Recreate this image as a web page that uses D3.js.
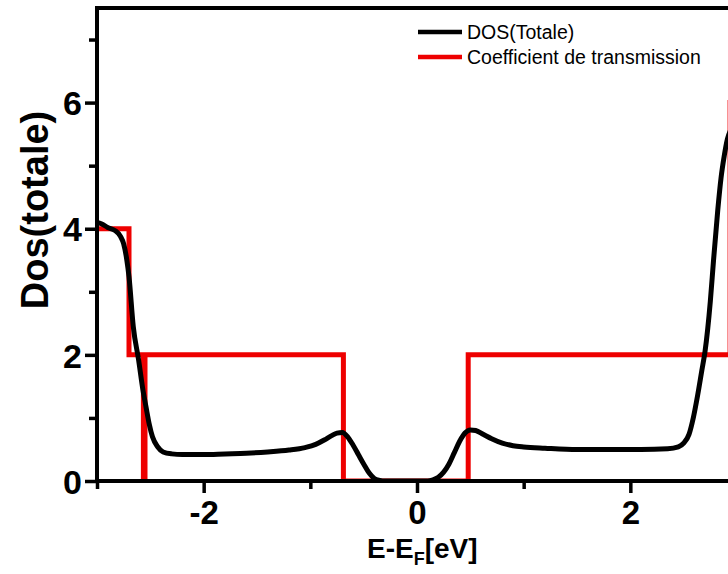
<!DOCTYPE html>
<html>
<head>
<meta charset="utf-8">
<script src="https://cdn.jsdelivr.net/npm/d3@7"></script>
<style>
  body { margin: 0; background: #fff; overflow: hidden; }
  svg { display: block; font-family: "Liberation Sans", Arial, sans-serif; }
</style>
</head>
<body>
<script>
// DOS (totale) curve
const dosEnergy = [-3.00, -2.96, -2.90, -2.83, -2.78, -2.75, -2.72, -2.70, -2.66, -2.61, -2.57, -2.54, -2.51, -2.48, -2.43, -2.38, -2.30, -2.20,
  -2.00, -1.80, -1.60, -1.40, -1.20, -1.05, -0.95, -0.87, -0.80, -0.75, -0.70, -0.65, -0.60, -0.55, -0.50, -0.45, -0.40, -0.35, -0.30,
  0.10, 0.15, 0.20, 0.25, 0.30, 0.35, 0.40, 0.45, 0.50, 0.55, 0.62, 0.70, 0.80, 0.90, 1.00, 1.20, 1.50, 1.80, 2.10, 2.35, 2.45, 2.50,
  2.55, 2.59, 2.63, 2.67, 2.70, 2.75, 2.78, 2.82, 2.85, 2.88, 2.91, 2.95, 3.00];
const dosValues = [4.10, 4.08, 4.02, 3.97, 3.88, 3.76, 3.50, 3.24, 2.45, 1.92, 1.45, 1.17, 0.90, 0.70, 0.54, 0.46, 0.43, 0.42,
  0.42, 0.43, 0.44, 0.46, 0.49, 0.53, 0.58, 0.65, 0.72, 0.76, 0.77, 0.70, 0.57, 0.42, 0.27, 0.13, 0.04, 0.01, 0.00,
  0.00, 0.02, 0.06, 0.14, 0.27, 0.45, 0.63, 0.76, 0.81, 0.80, 0.74, 0.67, 0.60, 0.56, 0.54, 0.52, 0.50, 0.50, 0.50, 0.51, 0.54, 0.60,
  0.74, 1.00, 1.35, 1.75, 2.05, 2.85, 3.50, 4.30, 4.80, 5.15, 5.42, 5.60, 5.70];

// Transmission coefficient (step function, value holds until next energy)
const transEnergy = [-3.00, -2.70, -2.565, -2.55, -0.69, 0.48, 2.935, 3.00];
const transValues = [4, 2, 0, 2, 0, 2, 6, 6];

const xMajor = [-2, 0, 2];
const xMinor = [-3, -1, 1, 3];
const yMajor = [0, 2, 4, 6];
const yMinor = [1, 3, 5, 7];

const seriesNames = ["DOS(Totale)", "Coefficient de transmission"];
const seriesColors = ["#000000", "#ee0000"];

const width = 728, height = 574;
const margin = { top: 8, right: -9, bottom: 93, left: 97 };

const svg = d3.select("body").append("svg")
  .attr("width", width)
  .attr("height", height);

const x = d3.scaleLinear().domain([-3, 3]).range([margin.left, width - margin.right]);
const y = d3.scaleLinear().domain([0, 7.5]).range([height - margin.bottom, margin.top]);

svg.append("defs").append("clipPath").attr("id", "plot")
  .append("rect")
  .attr("x", x(-3)).attr("y", y(7.5))
  .attr("width", x(3) - x(-3)).attr("height", y(0) - y(7.5));

// lines
const dosData = dosEnergy.map((e, i) => [e, dosValues[i]]);
const transData = transEnergy.map((e, i) => [e, transValues[i]]);

const plot = svg.append("g").attr("clip-path", "url(#plot)");

plot.append("path")
  .datum(transData)
  .attr("d", d3.line().x(d => x(d[0])).y(d => y(d[1])).curve(d3.curveStepAfter))
  .attr("fill", "none")
  .attr("stroke", seriesColors[1])
  .attr("stroke-width", 5)
  .attr("stroke-linejoin", "miter");

plot.append("path")
  .datum(dosData)
  .attr("d", d3.line().x(d => x(d[0])).y(d => y(d[1])).curve(d3.curveMonotoneX))
  .attr("fill", "none")
  .attr("stroke", seriesColors[0])
  .attr("stroke-width", 5)
  .attr("stroke-linejoin", "round");

// axes
function styleAxis(g, width) {
  g.select(".domain").remove();
  g.selectAll(".tick line").attr("stroke", "#000").attr("stroke-width", width);
}

const xAxisG = svg.append("g").attr("transform", `translate(0,${y(0)})`);
xAxisG.append("g").call(d3.axisBottom(x).tickValues(xMinor).tickSize(8).tickFormat(""))
  .call(g => styleAxis(g, 3.5));
xAxisG.append("g").call(d3.axisBottom(x).tickValues(xMajor).tickSize(12).tickFormat(d3.format("d")))
  .call(g => styleAxis(g, 3.5))
  .call(g => g.selectAll(".tick text")
    .attr("y", 20).attr("dy", "0.71em")
    .attr("font-size", 33).attr("font-weight", "bold")
    .attr("font-family", "Liberation Sans, Arial, sans-serif")
    .attr("fill", "#000")
    .text(d => d < 0 ? "-" + Math.abs(d) : d));

const yAxisG = svg.append("g").attr("transform", `translate(${x(-3)},0)`);
yAxisG.append("g").call(d3.axisLeft(y).tickValues(yMinor).tickSize(8).tickFormat(""))
  .call(g => styleAxis(g, 3.5));
yAxisG.append("g").call(d3.axisLeft(y).tickValues(yMajor).tickSize(12).tickFormat(d3.format("d")))
  .call(g => styleAxis(g, 3.5))
  .call(g => g.selectAll(".tick text")
    .attr("x", -15).attr("dy", "0.36em")
    .attr("font-size", 34).attr("font-weight", "bold")
    .attr("font-family", "Liberation Sans, Arial, sans-serif")
    .attr("fill", "#000"));

// frame lines (left, bottom, top)
svg.append("line").attr("x1", x(-3)).attr("x2", x(-3)).attr("y1", y(7.5) - 2).attr("y2", y(0) + 2)
  .attr("stroke", "#000").attr("stroke-width", 4);
svg.append("line").attr("x1", x(-3) - 2).attr("x2", x(3)).attr("y1", y(0)).attr("y2", y(0))
  .attr("stroke", "#000").attr("stroke-width", 4);
svg.append("line").attr("x1", x(-3) - 2).attr("x2", x(3)).attr("y1", y(7.5)).attr("y2", y(7.5))
  .attr("stroke", "#000").attr("stroke-width", 4);

// axis titles
svg.append("text")
  .attr("transform", "translate(48,210) rotate(-90)")
  .attr("text-anchor", "middle")
  .attr("font-size", 38).attr("font-weight", "bold")
  .text("Dos(totale)");

const xt = svg.append("text")
  .attr("x", x(0.05)).attr("y", 558)
  .attr("text-anchor", "middle")
  .attr("font-size", 28).attr("font-weight", "bold");
xt.append("tspan").text("E-E");
xt.append("tspan").attr("font-size", 18).attr("dy", 7).text("F");
xt.append("tspan").attr("dy", -7).text("[eV]");

// legend
const legend = svg.append("g").attr("transform", "translate(418,32)");
seriesNames.forEach((name, i) => {
  const row = legend.append("g").attr("transform", `translate(0,${i * 25})`);
  row.append("line").attr("x1", 0).attr("x2", 44)
    .attr("stroke", seriesColors[i]).attr("stroke-width", 4.5);
  row.append("text").attr("x", 49).attr("dy", "0.35em")
    .attr("font-size", 19.5).text(name);
});
</script>
</body>
</html>
